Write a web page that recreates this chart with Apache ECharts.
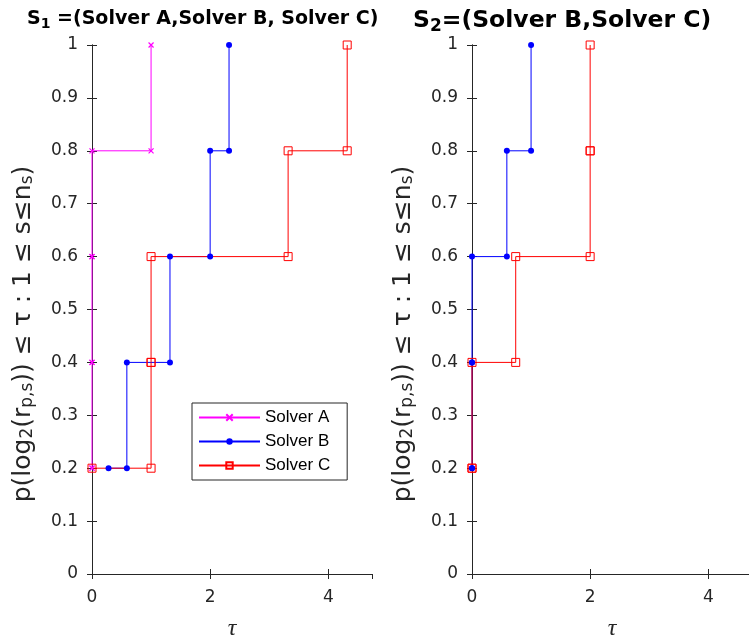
<!DOCTYPE html>
<html>
<head>
<meta charset="utf-8">
<script src="https://cdn.jsdelivr.net/npm/echarts@6/dist/echarts.min.js"></script>
<style>
  html, body { margin: 0; padding: 0; background: #fff; }
  #main { width: 749px; height: 638px; }
</style>
</head>
<body>
<div id="main"></div>
<script>
// performance profiles, log2 scale

var levels = [0.2, 0.4, 0.6, 0.8, 1.0];
// S1 = (A, B, C)
var tauA1 = [0, 0, 0, 0, 1];
var tauB1 = [0.28, 0.59, 1.32, 2, 2.32];
var tauC1 = [0, 1, 1, 3.32, 4.32];
// S2 = (B, C)
var tauB2 = [0, 0, 0, 0.59, 1];
var tauC2 = [0, 0, 0.74, 2, 2];

var xMax = 4.74;
var xTickStep = 2;
var yTickStep = 0.1;

var axisColor = '#262626';
var fontSans = 'Liberation Sans, Arial, sans-serif';
var fontWide = 'DejaVu Sans, sans-serif';

// stair vertices (markers on every corner, like the original)
function stairs(xs, ys) {
  var pts = [];
  for (var i = 0; i < xs.length; i++) {
    if (i > 0) pts.push([xs[i], ys[i - 1]]);
    pts.push([xs[i], ys[i]]);
  }
  return pts;
}

var solverStyle = {
  'Solver A': { color: '#ff00ff', symbol: 'path://M0,0L10,10M10,0L0,10', size: 5, fill: 'rgba(255,0,255,0)', border: 1.2 },
  'Solver B': { color: '#0000ff', symbol: 'circle', size: 6, fill: '#0000ff', border: 0 },
  'Solver C': { color: '#ff0000', symbol: 'rect', size: 8, fill: 'rgba(255,0,0,0)', border: 1 }
};

function makeSeries(name, xs, axisIdx) {
  var s = solverStyle[name];
  return {
    type: 'line',
    name: name,
    xAxisIndex: axisIdx,
    yAxisIndex: axisIdx,
    data: stairs(xs, levels),
    symbol: s.symbol,
    symbolSize: s.size,
    showAllSymbol: true,
    clip: false,
    lineStyle: { color: s.color, width: 1 },
    itemStyle: { color: s.fill, borderColor: s.color, borderWidth: s.border },
    emphasis: { disabled: true }
  };
}

var yName = '{n|p(log}{s|2}{n|(r}{s|p,s}{n|)) ≤ τ : 1 ≤ s≤n}{s|s}{n|)}';
var yNameRich = {
  n: { fontSize: 25, lineHeight: 26, color: axisColor, fontFamily: fontWide },
  s: { fontSize: 17, lineHeight: 16, padding: [10, 0, 0, 0], color: axisColor, fontFamily: fontWide }
};

function xAxes(gridIdx) {
  return [
    {
      gridIndex: gridIdx, type: 'value', position: 'bottom',
      min: 0, max: xMax, interval: xTickStep,
      name: 'τ', nameLocation: 'middle', nameGap: 43,
      nameTextStyle: { fontFamily: 'Liberation Serif, serif', fontStyle: 'italic', fontSize: 24, color: axisColor },
      axisLine: { show: true, lineStyle: { color: axisColor } },
      axisTick: { show: true, inside: true, length: 5, lineStyle: { color: axisColor } },
      axisLabel: { showMaxLabel: false, margin: 15, fontSize: 17, color: axisColor, fontFamily: fontWide },
      splitLine: { show: false }
    },
    {
      gridIndex: gridIdx, type: 'value', position: 'top',
      min: 0, max: xMax, interval: xTickStep,
      axisLine: { show: true, lineStyle: { color: axisColor } },
      axisTick: { show: true, inside: true, length: 5, lineStyle: { color: axisColor } },
      axisLabel: { show: false },
      splitLine: { show: false }
    }
  ];
}

function yAxes(gridIdx) {
  return [
    {
      gridIndex: gridIdx, type: 'value', position: 'left',
      min: 0, max: 1, interval: yTickStep,
      name: yName, nameLocation: 'middle', nameRotate: 90, nameGap: 56,
      nameTextStyle: { rich: yNameRich, padding: [0, 49, 0, 0] },
      axisLine: { show: true, lineStyle: { color: axisColor } },
      axisTick: { show: true, inside: true, length: 5, lineStyle: { color: axisColor } },
      axisLabel: { margin: 14, fontSize: 17, color: axisColor, fontFamily: fontWide },
      splitLine: { show: false }
    },
    {
      gridIndex: gridIdx, type: 'value', position: 'right',
      min: 0, max: 1, interval: yTickStep,
      axisLine: { show: true, lineStyle: { color: axisColor } },
      axisTick: { show: true, inside: true, length: 5, lineStyle: { color: axisColor } },
      axisLabel: { show: false },
      splitLine: { show: false }
    }
  ];
}

function titleRich(size) {
  return {
    b: { fontSize: size, fontWeight: 'bold', color: '#000', fontFamily: fontWide, lineHeight: size + 2 },
    s: { fontSize: Math.round(size * 0.72), fontWeight: 'bold', color: '#000', fontFamily: fontWide,
         lineHeight: Math.round(size * 0.7), padding: [Math.round(size * 0.5), 0, 0, 0] }
  };
}

var chart = echarts.init(document.getElementById('main'));

var option = {
  animation: false,
  backgroundColor: '#fff',
  title: [
    { left: 22, top: 4, text: '{b|S}{s|1}{b| =(Solver A,Solver B, Solver C)}', textStyle: { rich: titleRich(19) } },
    { left: 408, top: 3, text: '{b|S}{s|2}{b|=(Solver B,Solver C)}', textStyle: { rich: titleRich(23.5) } }
  ],
  legend: {
    data: ['Solver A', 'Solver B', 'Solver C'],
    orient: 'vertical',
    left: 192, top: 403,
    itemWidth: 61, itemHeight: 8, itemGap: 7,
    padding: [6, 17, 6, 6],
    borderColor: axisColor, borderWidth: 1, borderRadius: 0,
    backgroundColor: '#fff',
    selectedMode: false,
    textStyle: { fontSize: 17, color: '#000', fontFamily: fontSans }
  },
  grid: [
    { left: 92, top: 45, width: 280, height: 529, outerBoundsMode: 'none', containLabel: false },
    { left: 472, top: 45, width: 280, height: 529, outerBoundsMode: 'none', containLabel: false }
  ],
  xAxis: xAxes(0).concat(xAxes(1)),
  yAxis: yAxes(0).concat(yAxes(1)),
  series: [
    makeSeries('Solver A', tauA1, 0),
    makeSeries('Solver B', tauB1, 0),
    makeSeries('Solver C', tauC1, 0),
    makeSeries('Solver B', tauB2, 2),
    makeSeries('Solver C', tauC2, 2)
  ]
};

chart.setOption(option);
</script>
</body>
</html>
